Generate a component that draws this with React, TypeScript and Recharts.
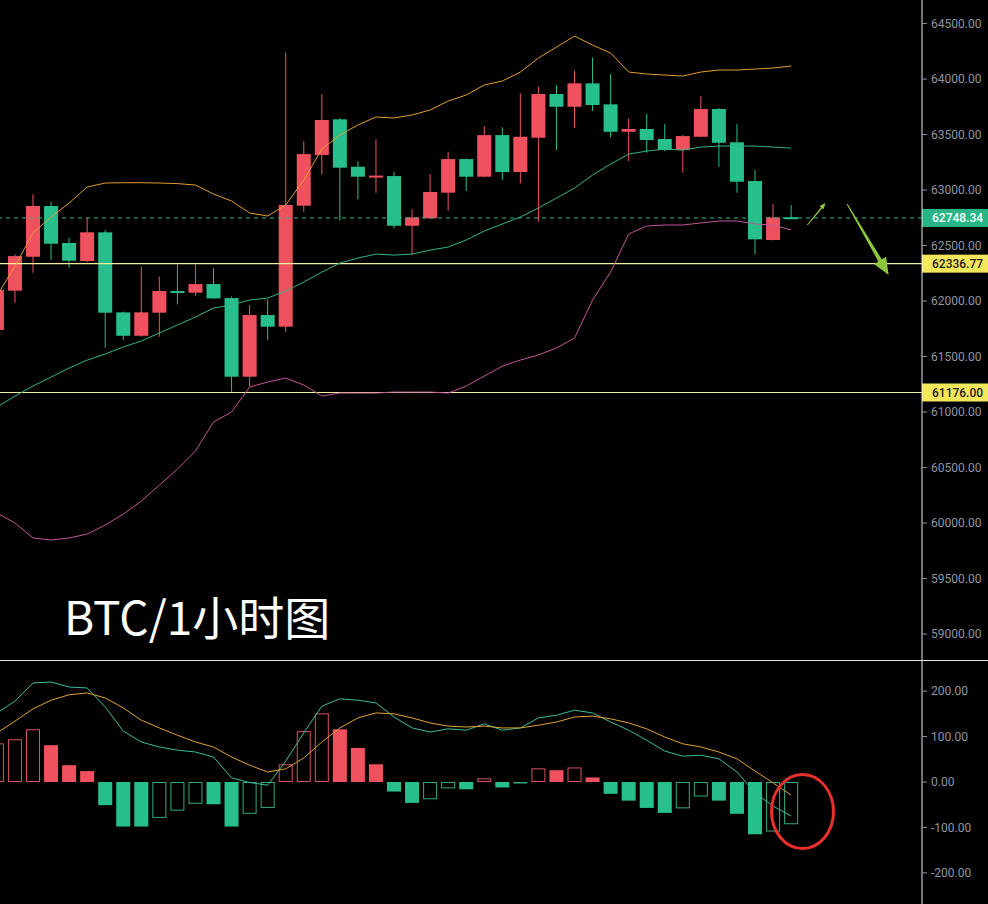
import { ComposedChart, Bar, Line, XAxis, YAxis, ReferenceLine, ReferenceDot } from 'recharts'

// BTC 1h candles, first one is cut by the left edge
const open = [61739, 62093, 62399, 62856, 62523, 62360, 62619, 61898, 61687, 61895, 62090, 62075, 62153, 62027, 61318, 61874, 61769, 62859, 63315, 63637, 63210, 63125, 63126, 62678, 62745, 62976, 63279, 63120, 63495, 63162, 63471, 63865, 63750, 63961, 63772, 63525, 63550, 63460, 63360, 63480, 63730, 63430, 63081, 62550, 62755]
const close = [62099, 62405, 62856, 62516, 62363, 62619, 61895, 61687, 61898, 62090, 62075, 62153, 62024, 61318, 61874, 61769, 62865, 63324, 63631, 63201, 63120, 63130, 62678, 62754, 62982, 63279, 63120, 63495, 63162, 63480, 63865, 63750, 63961, 63766, 63525, 63550, 63450, 63360, 63486, 63730, 63426, 63075, 62556, 62754, 62748]
const high = [62150, 62420, 62961, 62895, 62568, 62750, 62640, 61905, 62309, 62219, 62331, 62331, 62295, 62040, 61964, 62015, 64237, 63441, 63862, 63650, 63259, 63457, 63165, 62826, 63144, 63345, 63285, 63577, 63565, 63871, 63931, 63943, 64075, 64195, 64045, 63646, 63685, 63595, 63495, 63847, 63740, 63592, 63180, 62874, 62865]
const low = [61700, 61985, 62255, 62372, 62300, 62350, 61579, 61649, 61680, 61679, 61970, 62048, 62020, 61183, 61228, 61649, 61723, 62805, 63141, 62723, 62916, 62976, 62655, 62414, 62740, 62814, 62991, 63115, 63090, 63060, 62714, 63360, 63561, 63712, 63475, 63261, 63336, 63350, 63156, 63475, 63210, 62976, 62421, 62545, 62740]

// bollinger bands
const bollUpper = [62045, 62315, 62613, 62757, 62883, 63027, 63063, 63066, 63066, 63063, 63058, 63045, 62964, 62901, 62793, 62766, 62865, 63090, 63369, 63495, 63586, 63658, 63649, 63676, 63721, 63802, 63856, 63946, 63982, 64063, 64189, 64288, 64387, 64306, 64234, 64063, 64045, 64036, 64027, 64063, 64081, 64081, 64090, 64099, 64117]
const bollMid = [61045, 61144, 61234, 61315, 61396, 61468, 61523, 61586, 61640, 61712, 61784, 61856, 61937, 61964, 62009, 62027, 62090, 62171, 62261, 62342, 62387, 62423, 62414, 62423, 62459, 62486, 62550, 62631, 62694, 62757, 62838, 62928, 63018, 63135, 63234, 63324, 63351, 63369, 63360, 63387, 63396, 63396, 63396, 63387, 63378]
const bollLower = [60090, 60000, 59865, 59847, 59865, 59901, 59982, 60081, 60198, 60342, 60486, 60649, 60910, 61000, 61225, 61270, 61306, 61243, 61144, 61171, 61171, 61171, 61180, 61180, 61180, 61171, 61234, 61324, 61414, 61468, 61514, 61577, 61667, 62009, 62261, 62604, 62676, 62685, 62685, 62703, 62721, 62721, 62694, 62685, 62640]

// MACD
const macdHist = [85, 94, 116, 81, 37, 24, -51, -98, -98, -79, -63, -48, -49, -98, -70, -57, 39, 112, 151, 116, 75, 39, -21, -46, -38, -14, -16, 8, -12, -2, 30, 26, 32, 10, -26, -41, -57, -68, -58, -32, -41, -70, -115, -109, -93]
const dif = [152, 178, 218, 220, 209, 207, 165, 112, 88, 77, 70, 66, 55, 9, -1, -7, 46, 108, 167, 183, 180, 174, 143, 119, 110, 117, 114, 128, 114, 119, 141, 147, 158, 152, 132, 114, 92, 68, 57, 59, 51, 22, -24, -53, -75]
const dea = [108, 134, 161, 180, 192, 196, 185, 163, 136, 119, 103, 88, 77, 55, 37, 22, 29, 53, 88, 119, 141, 152, 150, 141, 130, 123, 121, 123, 119, 119, 125, 132, 143, 145, 139, 130, 117, 99, 84, 77, 66, 51, 24, -2, -29]

const priceTicks = [59000, 59500, 60000, 60500, 61000, 61500, 62000, 62500, 63000, 63500, 64000, 64500]
const macdTicks = [-200, -100, 0, 100, 200]
const lastPrice = 62748.34
const support1 = 62336.77
const support2 = 61176.0

const RED = '#f0515f'
const GREEN = '#27bf8c'

const rows = open.map((o, j) => ({
  i: j - 1,
  range: [low[j], high[j]],
  o, c: close[j], h: high[j], l: low[j],
  up: bollUpper[j], mid: bollMid[j], lo: bollLower[j],
  macd: macdHist[j], dif: dif[j], dea: dea[j],
  hollow: j === 0 || macdHist[j] > macdHist[j - 1],
}))

const xDomain = [-0.83, 50.25]

function Candle(props: any) {
  const { x, y, width, height, payload } = props
  const top = Math.min(y, y + height)
  const h = Math.abs(height)
  const { o, c } = payload
  const hi = payload.h, lo = payload.l
  const py = (v: number) => (hi === lo ? top : top + ((hi - v) / (hi - lo)) * h)
  const color = c >= o ? RED : GREEN
  const bt = py(Math.max(o, c))
  const bb = py(Math.min(o, c))
  const cx = x + width / 2
  return (
    <g>
      <line x1={cx} x2={cx} y1={top} y2={top + h} stroke={color} strokeWidth={1} />
      <rect x={x} y={bt} width={width} height={Math.max(bb - bt, 2)} fill={color} />
    </g>
  )
}

function Hist(props: any) {
  const { x, y, width, height, payload } = props
  const top = Math.min(y, y + height)
  const h = Math.abs(height)
  const pos = payload.macd >= 0
  if (payload.hollow) {
    return <rect x={x + 0.5} y={top + 0.5} width={width - 1} height={Math.max(h - 1, 0.5)} fill="none" stroke={pos ? '#d5535f' : '#35a981'} strokeWidth={1} />
  }
  return <rect x={x} y={top} width={width} height={Math.max(h, 1)} fill={pos ? RED : GREEN} />
}

const priceTag = (text: string, bg: string, fg: string) => (props: any) => {
  const vb = props.viewBox
  const x = vb.x + vb.width
  const y = vb.y
  return (
    <g>
      <rect x={x} y={y - 9} width={66} height={18} fill={bg} />
      <text x={x + 10} y={y + 4.5} fill={fg} fontSize={12} fontWeight={500}>{text}</text>
    </g>
  )
}

const arrow = (tail: number, shaft: number, headLen: number, headHalf: number) => (props: any) => {
  const { x1, y1, x2, y2 } = props
  const dx = x2 - x1, dy = y2 - y1
  const L = Math.hypot(dx, dy) || 1
  const ux = dx / L, uy = dy / L
  const nx = -uy, ny = ux
  const bx = x2 - ux * headLen, by = y2 - uy * headLen
  const pts = [
    [x1 + nx * tail / 2, y1 + ny * tail / 2],
    [bx + nx * shaft / 2, by + ny * shaft / 2],
    [bx + nx * headHalf, by + ny * headHalf],
    [x2, y2],
    [bx - nx * headHalf, by - ny * headHalf],
    [bx - nx * shaft / 2, by - ny * shaft / 2],
    [x1 - nx * tail / 2, y1 - ny * tail / 2],
  ]
  return <polygon points={pts.map(p => p.join(',')).join(' ')} fill="#8cc63e" />
}

const axisTick = { fill: '#8e95a2', fontSize: 12 }
const fmt = (v: number) => v.toFixed(2)

export default function App() {
  return (
    <div style={{ position: 'absolute', left: 0, top: 0, width: 988, height: 904, background: '#000', fontFamily: 'Roboto, "Noto Sans", sans-serif' }}>
      <ComposedChart width={988} height={660} data={rows} margin={{ top: 0, right: 0, bottom: 0, left: 0 }}>
        <XAxis dataKey="i" type="number" domain={xDomain} hide allowDataOverflow />
        <YAxis orientation="right" width={66} domain={[58766, 64712]} ticks={priceTicks} tickFormatter={fmt}
          allowDataOverflow tick={axisTick} tickLine={{ stroke: '#8e95a2' }} tickSize={5} tickMargin={4}
          axisLine={{ stroke: '#e6e6e6' }} />
        <ReferenceLine y={support1} stroke="#f2eea0" strokeWidth={1.2} label={priceTag('62336.77', '#f4e75c', '#222')} />
        <ReferenceLine y={support2} stroke="#f2eea0" strokeWidth={1.2} label={priceTag('61176.00', '#f4e75c', '#222')} />
        <ReferenceLine y={lastPrice} stroke="#2fb58d" strokeDasharray="4 4" label={priceTag('62748.34', '#27b487', '#fff')} />
        <Line dataKey="up" stroke="#e29d30" strokeWidth={1} dot={false} isAnimationActive={false} />
        <Line dataKey="mid" stroke="#33b487" strokeWidth={1} dot={false} isAnimationActive={false} />
        <Line dataKey="lo" stroke="#c0569b" strokeWidth={1} dot={false} isAnimationActive={false} />
        <Bar dataKey="range" barSize={14} shape={Candle} isAnimationActive={false} />
        <ReferenceLine segment={[{ x: 43.9, y: 62685 }, { x: 44.9, y: 62883 }]} ifOverflow="visible" shape={arrow(1, 1.5, 6, 2.5)} />
        <ReferenceLine segment={[{ x: 46.1, y: 62875 }, { x: 48.4, y: 62234 }]} ifOverflow="visible" shape={arrow(1, 4, 17, 7)} />
      </ComposedChart>
      <svg width={988} height={660} style={{ position: 'absolute', left: 0, top: 0, pointerEvents: 'none' }}>
        <text x={64} y={635} fill="#fff" fontSize={46} fontFamily='"Noto Sans CJK SC", sans-serif'>BTC/1小时图</text>
      </svg>
      <div style={{ height: 1, background: '#e6e6e6' }} />
      <ComposedChart width={988} height={243} data={rows} margin={{ top: 0, right: 0, bottom: 0, left: 0 }}>
        <XAxis dataKey="i" type="number" domain={xDomain} hide allowDataOverflow />
        <YAxis orientation="right" width={66} domain={[-268.5, 266.3]} ticks={macdTicks} tickFormatter={fmt}
          allowDataOverflow tick={axisTick} tickLine={{ stroke: '#8e95a2' }} tickSize={5} tickMargin={4}
          axisLine={{ stroke: '#e6e6e6' }} />
        <Bar dataKey="macd" barSize={14} shape={Hist} isAnimationActive={false} />
        <Line dataKey="dif" stroke="#3bbd9a" strokeWidth={1} dot={false} isAnimationActive={false} />
        <Line dataKey="dea" stroke="#e0a232" strokeWidth={1} dot={false} isAnimationActive={false} />
        <ReferenceDot x={43.63} y={-65} ifOverflow="visible"
          shape={(p: any) => <ellipse cx={p.cx} cy={p.cy} rx={31} ry={37} fill="none" stroke="#e8302c" strokeWidth={3} />} />
      </ComposedChart>
    </div>
  )
}
